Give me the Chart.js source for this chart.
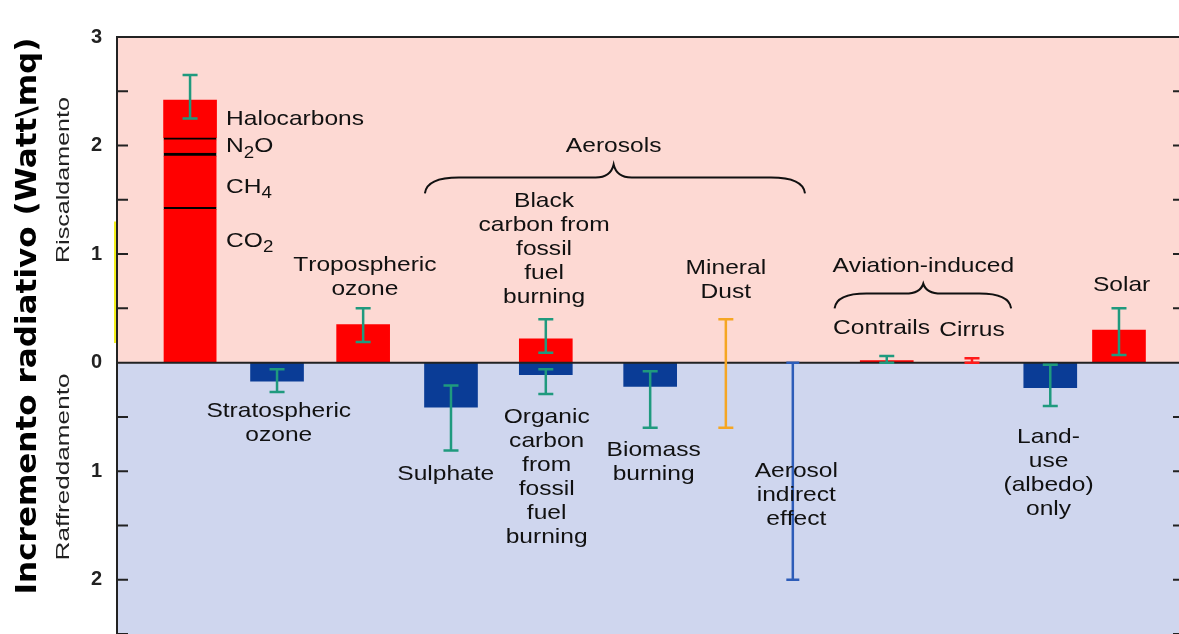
<!DOCTYPE html>
<html>
<head>
<meta charset="utf-8">
<script src="https://cdn.jsdelivr.net/npm/chart.js@4.4.1/dist/chart.umd.min.js"></script>
<style>
  body { margin: 0; background: #fff; }
</style>
</head>
<body>
<canvas id="chart" width="1179" height="634"></canvas>
<script>
// forcing agents, W/m2 (negative = cooling)
const categories = ['Greenhouse gases', 'Stratospheric ozone', 'Tropospheric ozone', 'Sulphate',
  'Fossil fuel carbon', 'Biomass burning', 'Mineral Dust', 'Aerosol indirect effect',
  'Contrails', 'Cirrus', 'Land-use (albedo) only', 'Solar'];
const slot = [0, 1, 1.99, 3, 4.09, 5.29, 6.16, 6.93, 8.01, 8.99, 9.89, 10.68];

const ghgNames = ['CO2', 'CH4', 'N2O', 'Halocarbons'];
const ghgTop = [1.43, 1.93, 2.07, 2.42];

const warming = [null, null, 0.35, null, 0.22, null, null, null, 0.02, null, null, 0.30];
const cooling = [null, -0.17, null, -0.41, -0.11, -0.22, null, null, null, null, -0.23, null];

// uncertainty ranges (category index, high, low)
const errCat  = [0, 1, 2, 3, 4, 4, 5, 6, 7, 8, 9, 10, 11];
const errHigh = [2.65, -0.06, 0.50, -0.21, 0.40, -0.06, -0.08, 0.40, 0, 0.06, 0.04, -0.02, 0.50];
const errLow  = [2.25, -0.27, 0.19, -0.81, 0.09, -0.29, -0.60, -0.60, -2.0, 0.0, 0.0, -0.40, 0.07];
const errKind = ['g', 'g', 'g', 'g', 'g', 'g', 'g', 'dust', 'indirect', 'g', 'cirrus', 'g', 'g'];

const RED = '#ff0000';
const BLUE = '#0a3c96';
const errColors = { g: '#1f9a7e', dust: '#f5a623', indirect: '#2d5cb8', cirrus: '#ff1a1a' };

// text labels placed in data units (x = slot, y = W/m2 of first line)
const notes = [
  { lines: ['Halocarbons'], x: 0.414, y: 2.24, align: 'left' },
  { lines: ['N_2O'], x: 0.414, y: 1.99, align: 'left' },
  { lines: ['CH_4'], x: 0.414, y: 1.62, align: 'left' },
  { lines: ['CO_2'], x: 0.414, y: 1.12, align: 'left' },
  { lines: ['Tropospheric', 'ozone'], x: 2.01, y: 0.90 },
  { lines: ['Stratospheric', 'ozone'], x: 1.02, y: -0.45 },
  { lines: ['Aerosols'], x: 4.87, y: 1.99 },
  { lines: ['Black', 'carbon from', 'fossil', 'fuel', 'burning'], x: 4.07, y: 1.49 },
  { lines: ['Mineral', 'Dust'], x: 6.16, y: 0.87 },
  { lines: ['Sulphate'], x: 2.94, y: -1.03 },
  { lines: ['Organic', 'carbon', 'from', 'fossil', 'fuel', 'burning'], x: 4.10, y: -0.50 },
  { lines: ['Biomass', 'burning'], x: 5.33, y: -0.81 },
  { lines: ['Aerosol', 'indirect', 'effect'], x: 6.97, y: -1.0 },
  { lines: ['Aviation-induced'], x: 8.43, y: 0.885 },
  { lines: ['Contrails'], x: 7.95, y: 0.32 },
  { lines: ['Cirrus'], x: 8.99, y: 0.295 },
  { lines: ['Land-', 'use', '(albedo)', 'only'], x: 9.87, y: -0.69 },
  { lines: ['Solar'], x: 10.71, y: 0.71 }
];

// braces: [x1, x2, tipX, endY, barY, tipY]
const braces = [
  [2.70, 7.07, 4.87, 1.56, 1.705, 1.825],
  [7.41, 9.44, 8.43, 0.50, 0.636, 0.728]
];

function drawRich(ctx, txt, x, y, align) {
  const parts = [];
  for (let i = 0; i < txt.length; i++) {
    if (txt[i] === '_') { parts.push({ t: txt[i + 1], sub: true }); i++; }
    else parts.push({ t: txt[i], sub: false });
  }
  const main = '21px "Liberation Sans"', small = '16px "Liberation Sans"';
  let w = 0;
  parts.forEach(p => { ctx.font = p.sub ? small : main; p.w = ctx.measureText(p.t).width; w += p.w; });
  ctx.save();
  ctx.translate(x, y);
  ctx.scale(1.17, 1);
  let cx = align === 'left' ? 0 : -w / 2;
  ctx.textAlign = 'left';
  ctx.textBaseline = 'middle';
  parts.forEach(p => {
    ctx.font = p.sub ? small : main;
    ctx.fillText(p.t, cx, p.sub ? 7 : 0);
    cx += p.w;
  });
  ctx.restore();
}

function vtext(ctx, txt, font, cx, cy, len) {
  ctx.save();
  ctx.font = font;
  const w = ctx.measureText(txt).width;
  ctx.translate(cx, cy);
  ctx.rotate(-Math.PI / 2);
  ctx.scale(len / w, 1);
  ctx.textAlign = 'center';
  ctx.textBaseline = 'middle';
  ctx.fillText(txt, 0, 0);
  ctx.restore();
}

const overlay = {
  id: 'overlay',
  beforeDraw(chart) {
    const { ctx, chartArea: a, scales: { y } } = chart;
    const y0 = y.getPixelForValue(0);
    ctx.save();
    ctx.fillStyle = '#fdd9d3';
    ctx.fillRect(a.left, a.top, a.right - a.left, y0 - a.top);
    ctx.fillStyle = '#cfd6ee';
    ctx.fillRect(a.left, y0, a.right - a.left, a.bottom - y0);
    ctx.restore();
  },
  afterDatasetsDraw(chart) {
    const { ctx, chartArea: a, scales: { x, y } } = chart;
    const y0 = y.getPixelForValue(0);
    ctx.save();
    ctx.strokeStyle = '#222';
    ctx.lineWidth = 2;
    ctx.beginPath();
    ctx.moveTo(a.left, y0); ctx.lineTo(a.right, y0);
    ctx.moveTo(a.left, a.top); ctx.lineTo(a.right, a.top);
    y.ticks.forEach(t => {
      const py = y.getPixelForValue(t.value);
      ctx.moveTo(a.left, py); ctx.lineTo(a.left + 11, py);
      ctx.moveTo(a.right, py); ctx.lineTo(a.right - 6, py);
    });
    ctx.stroke();

    // yellow mark on the axis
    ctx.strokeStyle = '#f2ee1a';
    ctx.beginPath();
    ctx.moveTo(a.left - 2, y.getPixelForValue(1.3));
    ctx.lineTo(a.left - 2, y.getPixelForValue(0.18));
    ctx.stroke();

    // error bars
    errCat.forEach((c, i) => {
      const px = x.getPixelForValue(slot[c]);
      const hi = y.getPixelForValue(errHigh[i]);
      const lo = y.getPixelForValue(errLow[i]);
      const hw = errKind[i] === 'indirect' ? 6.5 : 7.5;
      ctx.strokeStyle = errColors[errKind[i]];
      ctx.lineWidth = 2.5;
      ctx.beginPath();
      ctx.moveTo(px, hi); ctx.lineTo(px, lo);
      ctx.moveTo(px - hw, hi); ctx.lineTo(px + hw, hi);
      ctx.moveTo(px - hw, lo); ctx.lineTo(px + hw, lo);
      ctx.stroke();
    });

    // braces
    ctx.strokeStyle = '#111';
    ctx.lineWidth = 2;
    braces.forEach(b => {
      const x1 = x.getPixelForValue(b[0]), x2 = x.getPixelForValue(b[1]), xt = x.getPixelForValue(b[2]);
      const ye = y.getPixelForValue(b[3]), yb = y.getPixelForValue(b[4]), yt = y.getPixelForValue(b[5]);
      const r = Math.min(34, (x2 - x1) * 0.18), r2 = 18;
      ctx.beginPath();
      ctx.moveTo(x1, ye);
      ctx.quadraticCurveTo(x1 + 2, yb, x1 + r, yb);
      ctx.lineTo(xt - r2, yb);
      ctx.quadraticCurveTo(xt - 3, yb, xt, yt);
      ctx.quadraticCurveTo(xt + 3, yb, xt + r2, yb);
      ctx.lineTo(x2 - r, yb);
      ctx.quadraticCurveTo(x2 - 2, yb, x2, ye);
      ctx.stroke();
    });

    // labels
    ctx.fillStyle = '#111';
    notes.forEach(n => {
      const px = x.getPixelForValue(n.x);
      const py = y.getPixelForValue(n.y);
      n.lines.forEach((l, k) => drawRich(ctx, l, px, py + k * 24, n.align));
    });

    // axis titles
    ctx.fillStyle = '#000';
    vtext(ctx, 'Incremento radiativo (Watt\\mq)', 'bold 28px "DejaVu Sans"', 29, 316, 557);
    ctx.fillStyle = '#222';
    vtext(ctx, 'Riscaldamento', '19px "Liberation Sans"', 64, 180, 166);
    vtext(ctx, 'Raffreddamento', '19px "Liberation Sans"', 64, 467, 187);
    ctx.restore();
  }
};

const ghgSets = ghgTop.map((top, k) => ({
  label: ghgNames[k],
  data: [{ x: slot[0], y: [k ? ghgTop[k - 1] : 0, top] }],
  backgroundColor: RED,
  borderColor: '#000',
  borderWidth: k < 3 ? { top: k === 1 ? 3 : 2, right: 0, bottom: 0, left: 0 } : 0,
  borderSkipped: false
}));

const toPoints = arr => arr.map((v, i) => v === null ? null : { x: slot[i], y: v }).filter(p => p);

new Chart(document.getElementById('chart'), {
  type: 'bar',
  data: {
    datasets: [
      ...ghgSets,
      { label: 'Warming', data: toPoints(warming), backgroundColor: RED },
      { label: 'Cooling', data: toPoints(cooling), backgroundColor: BLUE }
    ]
  },
  options: {
    responsive: false,
    animation: false,
    layout: { padding: { top: 37, right: 0, bottom: 0, left: 0 } },
    datasets: { bar: { barThickness: 53, grouped: false } },
    plugins: { legend: { display: false }, tooltip: { enabled: false } },
    scales: {
      x: { type: 'linear', min: -0.84, max: 11.37, offset: false, display: false },
      y: {
        min: -2.5, max: 3,
        afterFit(s) { s.width = 117; s.paddingTop = 0; s.paddingBottom = 0; },
        ticks: {
          stepSize: 0.5,
          autoSkip: false,
          padding: 15,
          color: '#222',
          font: { family: 'Liberation Sans', weight: 'bold', size: 20 },
          callback: v => Number.isInteger(v) ? String(Math.abs(v)) : ''
        },
        grid: { drawOnChartArea: false, drawTicks: false },
        border: { color: '#222', width: 2 }
      }
    }
  },
  plugins: [overlay]
});
</script>
</body>
</html>
